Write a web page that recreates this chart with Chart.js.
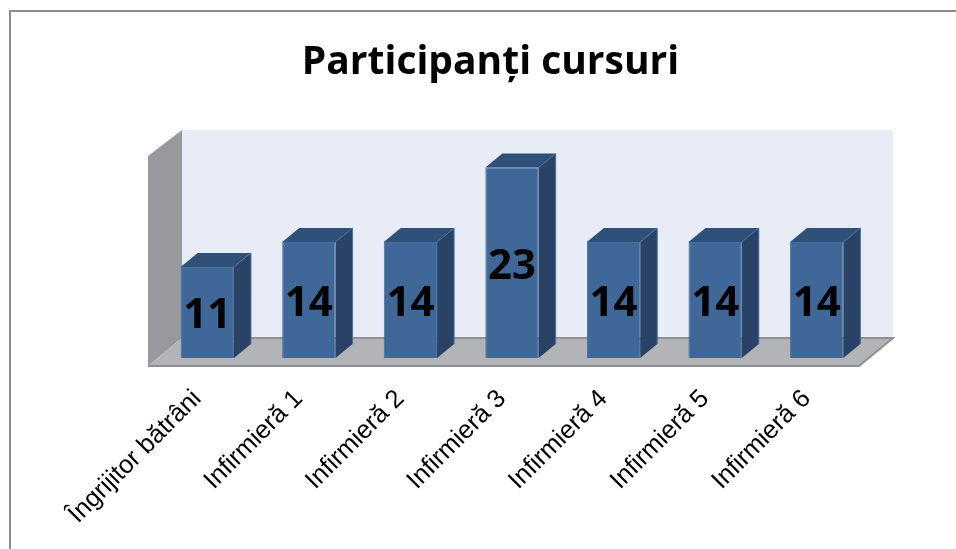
<!DOCTYPE html>
<html>
<head>
<meta charset="utf-8">
<style>
  html, body { margin: 0; padding: 0; background: #fff; }
  #wrap { width: 956px; height: 549px; }
</style>
<script src="https://cdn.jsdelivr.net/npm/chart.js@4"></script>
</head>
<body>
<div id="wrap"><canvas id="myChart" width="956" height="549"></canvas></div>
<script>
let categories = ["Îngrijitor bătrâni", "Infirmieră 1", "Infirmieră 2", "Infirmieră 3", "Infirmieră 4", "Infirmieră 5", "Infirmieră 6"];
let participants = [11, 14, 14, 23, 14, 14, 14];
let titleText = "Participanți cursuri";

let frontColor = "#3f6797";
let topColor = "#2f5078";
let sideColor = "#294266";
let edgeColor = "#456f9f";
let wallColor = "#e8ecf6";
let floorColor = "#b2b4b8";
let sideWallColor = "#98999d";
let frameColor = "#8c8c8c";

// depth of one bar, the floor and walls are twice as deep
let depthX = 17;
let depthY = 14;

function poly(ctx, pts, fill) {
  ctx.beginPath();
  ctx.moveTo(pts[0][0], pts[0][1]);
  for (let i = 1; i < pts.length; i++) ctx.lineTo(pts[i][0], pts[i][1]);
  ctx.closePath();
  ctx.fillStyle = fill;
  ctx.fill();
}

let roomPlugin = {
  id: "room",
  beforeDatasetsDraw(chart) {
    let ctx = chart.ctx;
    let a = chart.chartArea;
    // front edge of the floor sits half a bar depth in front of the bars
    let fl = a.left - depthX / 2;
    let fr = a.right - depthX / 2;
    let fb = a.bottom + 8;
    let ft = a.top + 5;
    let bt = a.top - 21;
    let dx = depthX * 2;
    let dy = depthY * 2;

    ctx.save();
    ctx.strokeStyle = frameColor;
    ctx.lineWidth = 2;
    ctx.beginPath();
    ctx.moveTo(10, 549);
    ctx.lineTo(10, 11);
    ctx.lineTo(956, 11);
    ctx.stroke();

    poly(ctx, [[fl + dx, bt], [fr + dx, bt], [fr + dx, fb - dy], [fl + dx, fb - dy]], wallColor);
    poly(ctx, [[fl, ft], [fl + dx, bt], [fl + dx, fb - dy], [fl, fb]], sideWallColor);
    poly(ctx, [[fl, fb], [fl + dx, fb - dy], [fr + dx, fb - dy], [fr, fb]], floorColor);

    ctx.strokeStyle = "#8f9094";
    ctx.lineWidth = 2;
    ctx.beginPath();
    ctx.moveTo(fl, fb);
    ctx.lineTo(fr, fb);
    ctx.lineTo(fr + dx, fb - dy);
    ctx.lineTo(fl + dx, fb - dy);
    ctx.stroke();
    ctx.restore();
  },
  afterDatasetsDraw(chart) {
    let ctx = chart.ctx;
    let bars = chart.getDatasetMeta(0).data;
    ctx.save();
    bars.forEach((bar, i) => {
      let p = bar.getProps(["x", "y", "base", "width"], true);
      let l = p.x - p.width / 2;
      let r = p.x + p.width / 2;
      poly(ctx, [[l, p.y], [l + depthX, p.y - depthY], [r + depthX, p.y - depthY], [r, p.y]], topColor);
      poly(ctx, [[r, p.y], [r + depthX, p.y - depthY], [r + depthX, p.base - depthY], [r, p.base]], sideColor);
      ctx.strokeStyle = edgeColor;
      ctx.lineWidth = 1;
      ctx.beginPath();
      ctx.moveTo(r, p.y);
      ctx.lineTo(r + depthX, p.y - depthY);
      ctx.lineTo(r + depthX, p.base - depthY);
      ctx.stroke();

      ctx.fillStyle = "#000";
      ctx.font = "bold 42px 'Open Sans'";
      ctx.textAlign = "center";
      ctx.textBaseline = "middle";
      ctx.fillText(String(participants[i]), p.x, (p.y + p.base) / 2 + 4);
    });
    ctx.restore();
  }
};

new Chart("myChart", {
  type: "bar",
  data: {
    labels: categories,
    datasets: [{
      data: participants,
      backgroundColor: frontColor,
      borderColor: edgeColor,
      borderWidth: 1,
      barPercentage: 1,
      categoryPercentage: 0.525
    }]
  },
  options: {
    responsive: false,
    animation: false,
    layout: { padding: { left: 113.5, right: 88.5, top: 14, bottom: 0 } },
    plugins: {
      legend: { display: false },
      tooltip: { enabled: false },
      title: {
        display: true,
        text: titleText,
        color: "#000",
        font: { family: "'Open Sans'", size: 39, weight: "bold" },
        padding: { top: 25.6, bottom: 64.6 }
      }
    },
    scales: {
      x: {
        grid: { display: false, drawTicks: false },
        border: { display: false },
        ticks: {
          color: "#000",
          font: { family: "'Liberation Sans'", size: 25.5 },
          maxRotation: 45,
          minRotation: 45,
          padding: 26,
          labelOffset: -10,
          autoSkip: false
        },
        afterFit(scale) { scale.height = 191; }
      },
      y: {
        min: 0,
        max: 25,
        grid: { display: false, drawTicks: false },
        border: { display: false },
        ticks: { display: false },
        afterFit(scale) { scale.width = 43; }
      }
    }
  },
  plugins: [roomPlugin]
});
</script>
</body>
</html>
